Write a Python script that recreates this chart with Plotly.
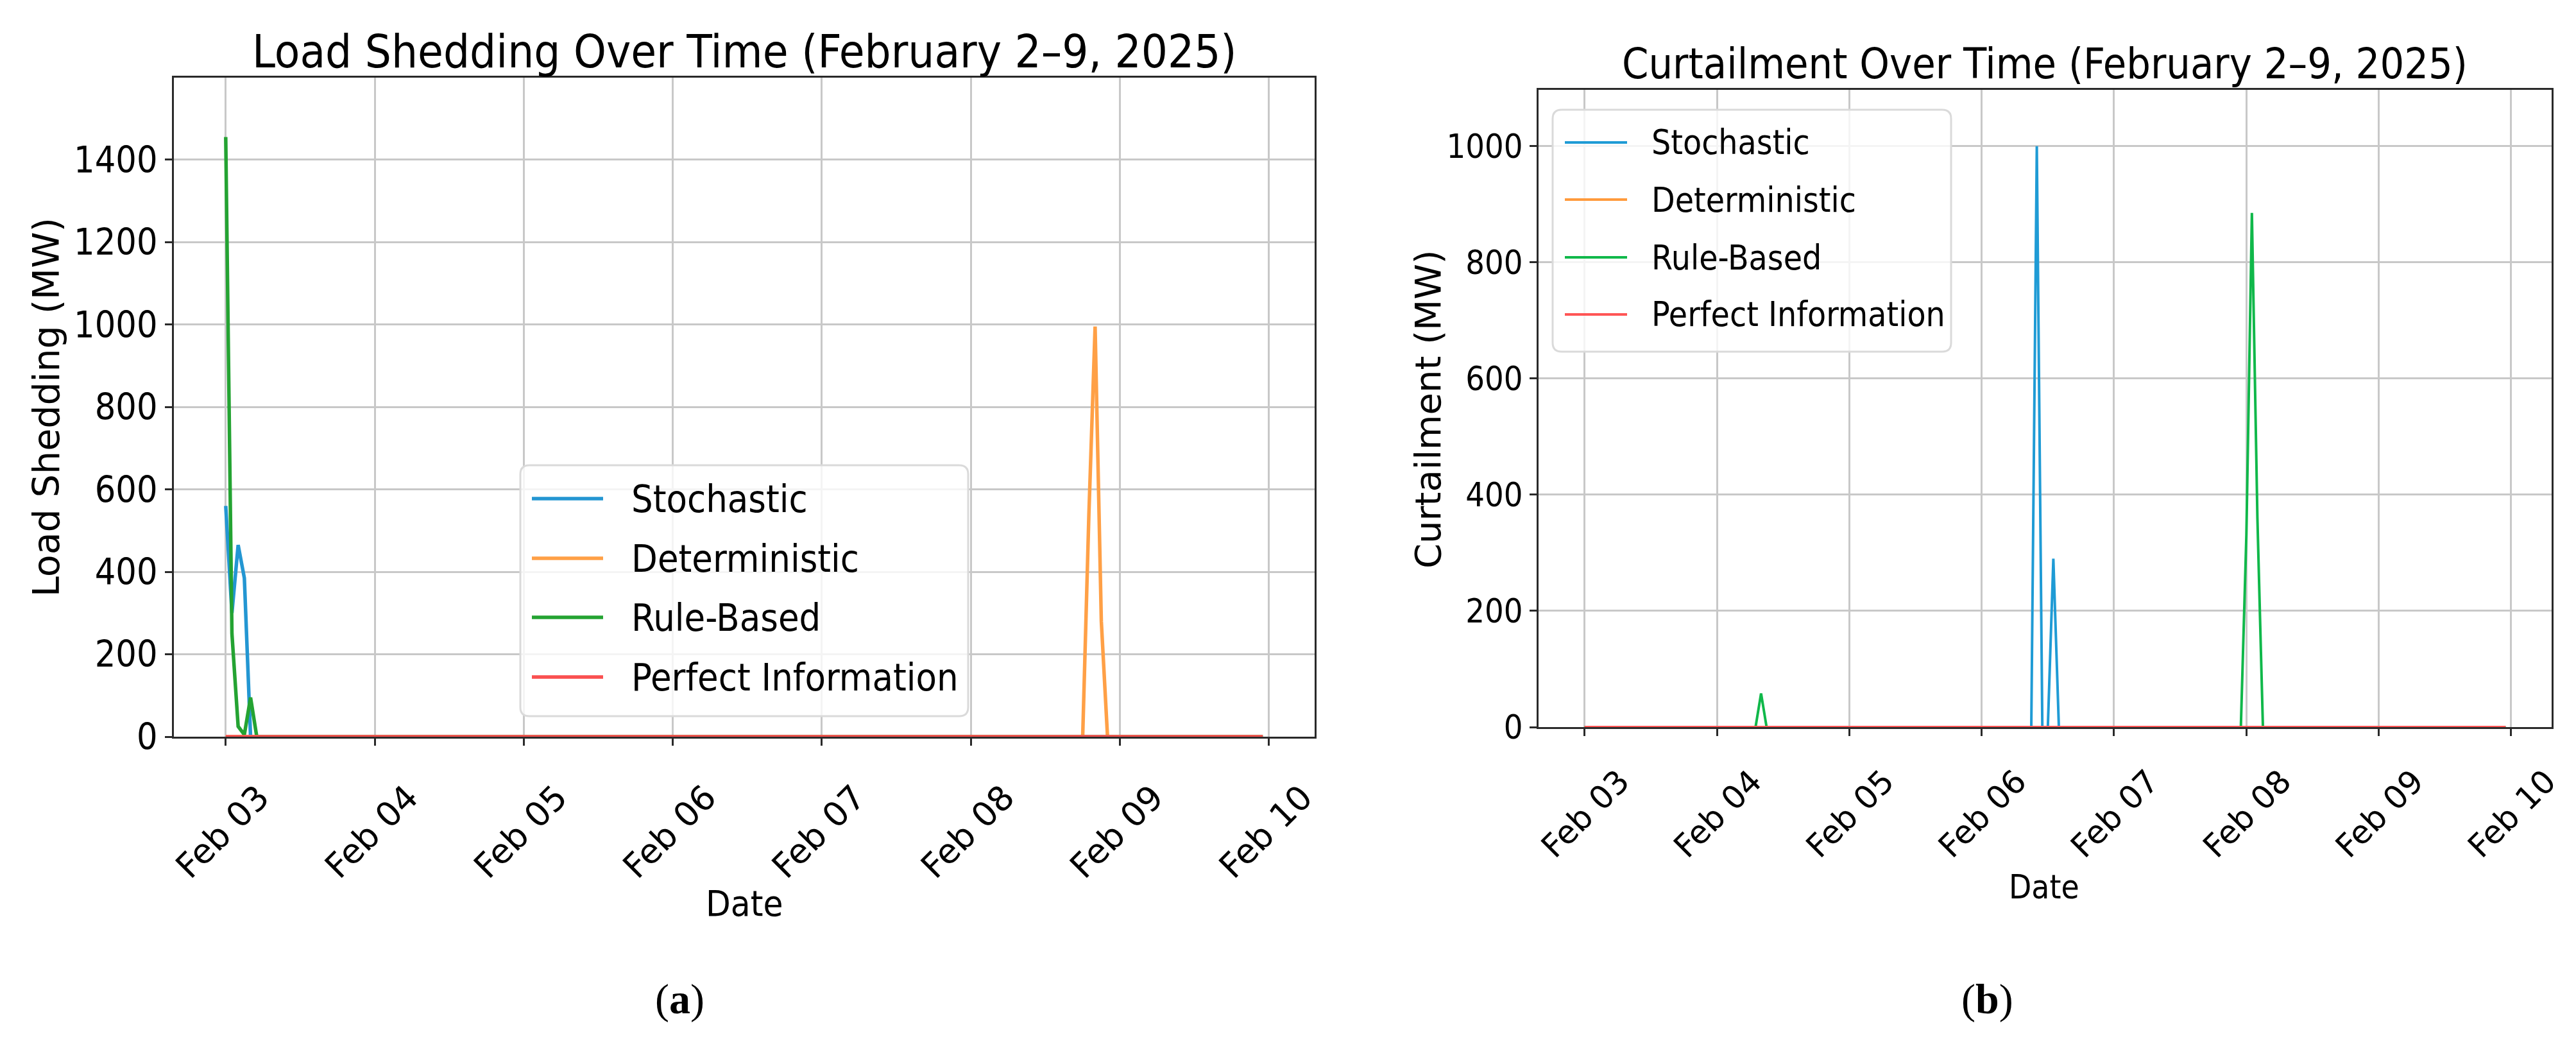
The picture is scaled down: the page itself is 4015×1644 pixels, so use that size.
import pandas as pd
import plotly.graph_objs
import plotly.subplots

hours = pd.date_range("2025-02-03 00:00", "2025-02-09 23:00", freq="h")

strategies = ["Stochastic", "Deterministic", "Rule-Based", "Perfect Information"]

# hourly MW, only the non-zero hours are listed
ls_stochastic = {"2025-02-03 00:00": 560, "2025-02-03 01:00": 300,
                 "2025-02-03 02:00": 465, "2025-02-03 03:00": 385}
ls_deterministic = {"2025-02-08 19:00": 540, "2025-02-08 20:00": 995,
                    "2025-02-08 21:00": 280}
ls_rule_based = {"2025-02-03 00:00": 1455, "2025-02-03 01:00": 250,
                 "2025-02-03 02:00": 25, "2025-02-03 03:00": 5,
                 "2025-02-03 04:00": 95}
ls_perfect = {}

cu_stochastic = {"2025-02-06 10:00": 1000, "2025-02-06 13:00": 290}
cu_deterministic = {}
cu_rule_based = {"2025-02-04 08:00": 58, "2025-02-08 00:00": 330,
                 "2025-02-08 01:00": 885, "2025-02-08 02:00": 360}
cu_perfect = {}

day_ticks = ["2025-02-03", "2025-02-04", "2025-02-05", "2025-02-06",
             "2025-02-07", "2025-02-08", "2025-02-09", "2025-02-10"]
day_labels = ["Feb 03", "Feb 04", "Feb 05", "Feb 06",
              "Feb 07", "Feb 08", "Feb 09", "Feb 10"]
ls_ticks = [0, 200, 400, 600, 800, 1000, 1200, 1400]
cu_ticks = [0, 200, 400, 600, 800, 1000]

colors_a = ["#2396d2", "#ffa046", "#24a332", "#fa5050"]
colors_b = ["#1f9bd5", "#ff9a3c", "#10b84a", "#ff5555"]

NARROW = "Liberation Sans Narrow, DejaVu Sans Condensed, Arial Narrow, sans-serif"
WIDE = "DejaVu Sans, sans-serif"
SERIF = "Liberation Serif, Times New Roman, serif"

# the page body keeps its 8px margin, so the figure is a bit smaller than the window
PAD = 8
W, H = 4015 - 2 * PAD, 1644 - 2 * PAD


def hourly(values):
    return [values.get(t.strftime("%Y-%m-%d %H:%M"), 0) for t in hours]


def px(x, y):
    # pixel position in the window -> paper coordinates
    return (x - PAD) / W, 1 - (y - PAD) / H


def axis_style(font, size):
    return dict(
        automargin=False,
        showline=True,
        mirror=True,
        linecolor="#2a2a2a",
        linewidth=3,
        showgrid=True,
        gridcolor="#c8c8c8",
        gridwidth=3,
        zeroline=False,
        ticks="outside",
        ticklen=11,
        tickwidth=3,
        tickcolor="#2a2a2a",
        tickfont=dict(family=font, size=size, color="black"),
    )


f = plotly.subplots.make_subplots(rows=1, cols=2)

panels = [
    ([ls_stochastic, ls_deterministic, ls_rule_based, ls_perfect], colors_a, 5.5, 1),
    ([cu_stochastic, cu_deterministic, cu_rule_based, cu_perfect], colors_b, 4, 2),
]
for series, colors, width, col in panels:
    for name, values, color in zip(strategies, series, colors):
        f.add_trace(
            plotly.graph_objs.Scatter(
                x=hours,
                y=hourly(values),
                name=name,
                mode="lines",
                line=dict(color=color, width=width),
                showlegend=False,
            ),
            row=1,
            col=col,
        )

x_range = ["2025-02-02 15:39", "2025-02-10 07:21"]

a_left, a_bottom = px(271, 1148)
a_right, a_top = px(2049, 121)
b_left, b_bottom = px(2398, 1133)
b_right, b_top = px(3977, 140)

f.update_xaxes(
    domain=[a_left, a_right], range=x_range, row=1, col=1,
    tickvals=day_ticks, ticktext=day_labels, tickangle=-45,
    ticklabelshift=52, ticklabelstandoff=28,
    **axis_style(WIDE, 53),
)
f.update_xaxes(
    domain=[b_left, b_right], range=x_range, row=1, col=2,
    tickvals=day_ticks, ticktext=day_labels, tickangle=-45,
    ticklabelshift=55, ticklabelstandoff=21,
    **axis_style(WIDE, 50),
)
f.update_yaxes(
    domain=[a_bottom, a_top], range=[0, 1599], row=1, col=1,
    tickvals=ls_ticks, **axis_style(NARROW, 57),
)
f.update_yaxes(
    domain=[b_bottom, b_top], range=[0, 1097], row=1, col=2,
    tickvals=cu_ticks, **axis_style(NARROW, 52),
)

f.update_layout(
    width=W,
    height=H,
    margin=dict(l=0, r=0, t=0, b=0),
    paper_bgcolor="white",
    plot_bgcolor="white",
    showlegend=False,
)


def rounded_box(x0, y0, x1, y1, r):
    pts = [
        ("M", x0 + r, y0), ("L", x1 - r, y0), ("Q", x1, y0, x1, y0 + r),
        ("L", x1, y1 - r), ("Q", x1, y1, x1 - r, y1), ("L", x0 + r, y1),
        ("Q", x0, y1, x0, y1 - r), ("L", x0, y0 + r), ("Q", x0, y0, x0 + r, y0),
    ]
    parts = []
    for p in pts:
        coords = []
        for i in range(1, len(p), 2):
            a, b = px(p[i], p[i + 1])
            coords.append("{:.5f},{:.5f}".format(a, b))
        parts.append(p[0] + " ".join(coords))
    return " ".join(parts) + " Z"


# legends drawn by hand: long line samples as in the original figure
legends = [
    # box, sample x0, sample x1, text x, row y's, font size, line width, colors
    ((811, 725, 1509, 1116), 829, 940, 982, [777, 870, 962, 1055], 59, 5.5, colors_a),
    ((2420, 171, 3041, 548), 2439, 2536, 2572, [222, 311, 401, 490], 53, 4, colors_b),
]
for box, sx0, sx1, tx, rows, size, lw, colors in legends:
    f.add_shape(
        type="path", path=rounded_box(*box, 14), xref="paper", yref="paper",
        fillcolor="rgba(255,255,255,0.8)", line=dict(color="#dadada", width=3),
    )
    for name, ry, color in zip(strategies, rows, colors):
        a0, b0 = px(sx0, ry)
        a1, _ = px(sx1, ry)
        f.add_shape(
            type="line", x0=a0, x1=a1, y0=b0, y1=b0, xref="paper", yref="paper",
            line=dict(color=color, width=lw),
        )
        tx_p, ty_p = px(tx, ry)
        f.add_annotation(
            text=name, x=tx_p, y=ty_p, xref="paper", yref="paper",
            xanchor="left", yanchor="middle", showarrow=False,
            font=dict(family=NARROW, size=size, color="black"),
        )

texts = [
    ("Load Shedding Over Time (February 2–9, 2025)", 1160, 80, NARROW, 72, 0),
    ("Curtailment Over Time (February 2–9, 2025)", 3187, 100, NARROW, 66, 0),
    ("Date", 1160, 1407, NARROW, 56, 0),
    ("Date", 3186, 1382, NARROW, 51, 0),
    ("Load Shedding (MW)", 72, 635, WIDE, 57, -90),
    ("Curtailment (MW)", 2225, 638, WIDE, 56, -90),
    ("(<b>a</b>)", 1059, 1557, SERIF, 66, 0),
    ("(<b>b</b>)", 3097, 1557, SERIF, 66, 0),
]
for text, x, y, family, size, angle in texts:
    xp, yp = px(x, y)
    f.add_annotation(
        text=text, x=xp, y=yp, xref="paper", yref="paper",
        xanchor="center", yanchor="middle", showarrow=False, textangle=angle,
        font=dict(family=family, size=size, color="black"),
    )

f.write_html("out.html")
